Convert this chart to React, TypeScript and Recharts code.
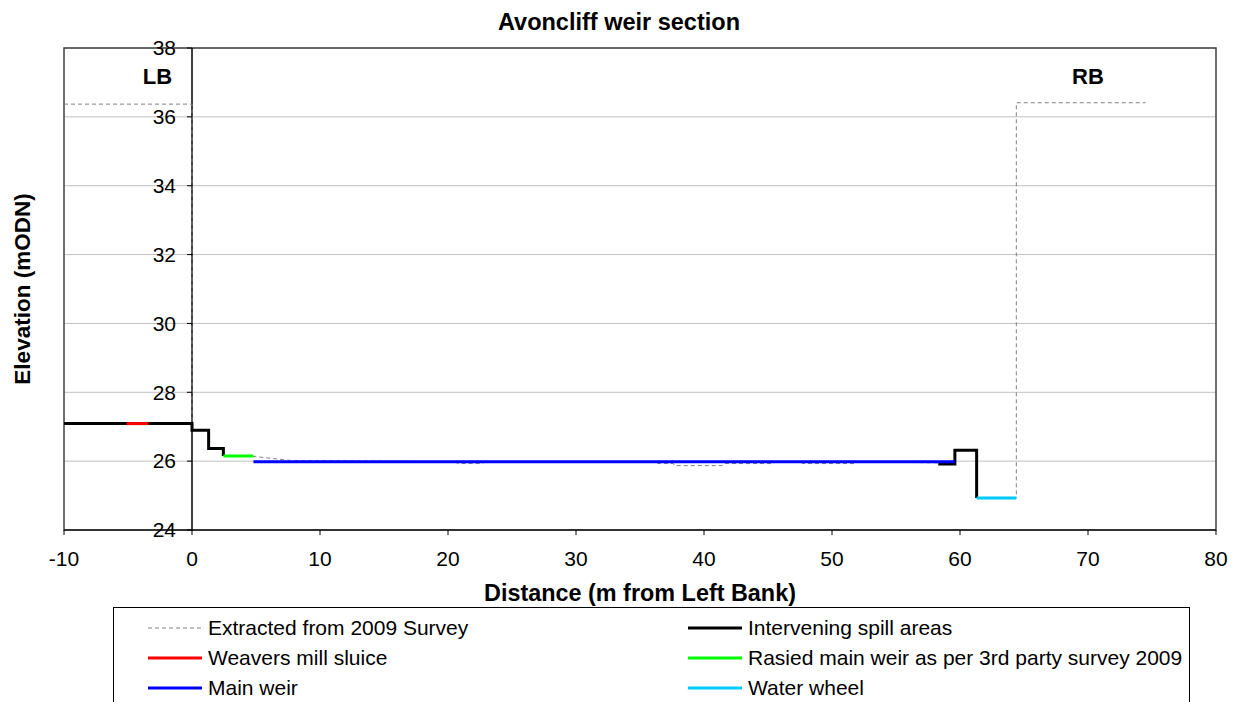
import { LineChart, Line, XAxis, YAxis, CartesianGrid, ReferenceArea, ReferenceLine, ReferenceDot } from 'recharts'

const FONT = '"Liberation Sans", Arial, sans-serif'

const X_MIN = -10
const X_MAX = 80
const Y_MIN = 24
const Y_MAX = 38
const xTicks = [-10, 0, 10, 20, 30, 40, 50, 60, 70, 80]
const yTicks = [24, 26, 28, 30, 32, 34, 36, 38]

// Extracted from 2009 Survey
const surveyX = [-10, 0, 0, 0.1, 1.3, 1.3, 2.45, 2.45, 5, 7.7, 20.5, 20.8, 22.6, 23, 36.2, 36.4, 37.6, 37.7, 41.4, 41.6, 45.4, 45.6, 47.5, 47.7, 51.7, 52, 58.3, 59.6, 59.6, 61.3, 61.3, 64.4, 64.4, 74.5]
const surveyY = [36.37, 36.37, 27.09, 26.9, 26.9, 26.37, 26.37, 26.15, 26.13, 26.02, 25.98, 25.93, 25.93, 25.98, 25.98, 25.93, 25.93, 25.87, 25.87, 25.93, 25.93, 25.98, 25.98, 25.93, 25.93, 25.98, 25.95, 25.95, 26.32, 26.32, 24.93, 24.93, 36.41, 36.41]

// Intervening spill areas (null = gap)
const spillX = [-10, 0, 0, 1.3, 1.3, 2.45, 2.45, 30, 58.3, 59.6, 59.6, 61.3, 61.3]
const spillY: (number | null)[] = [27.09, 27.09, 26.9, 26.9, 26.37, 26.37, 26.15, null, 25.92, 25.92, 26.32, 26.32, 24.93]

const sluiceX = [-5.1, -3.4]
const sluiceY = [27.09, 27.09]

const raisedX = [2.45, 4.8]
const raisedY = [26.15, 26.15]

const mainX = [4.8, 59.6]
const mainY = [25.98, 25.98]

const wheelX = [61.3, 64.4]
const wheelY = [24.93, 24.93]

const bankLabels = ['LB', 'RB']
const bankX = [-2.7, 70]
const bankY = [37.19, 37.19]

const zip = (xs: number[], ys: (number | null)[]) => xs.map((x, i) => ({ x, y: ys[i] }))

const SERIES = [
  { name: 'Extracted from 2009 Survey', color: '#808080', width: 1, dash: '4 3', data: zip(surveyX, surveyY) },
  { name: 'Intervening spill areas', color: '#000000', width: 3, dash: undefined, data: zip(spillX, spillY) },
  { name: 'Weavers mill sluice', color: '#ff0000', width: 3, dash: undefined, data: zip(sluiceX, sluiceY) },
  { name: 'Rasied main weir as per 3rd party survey 2009', color: '#00ff00', width: 3, dash: undefined, data: zip(raisedX, raisedY) },
  { name: 'Main weir', color: '#0000ff', width: 3, dash: undefined, data: zip(mainX, mainY) },
  { name: 'Water wheel', color: '#00ccff', width: 3, dash: undefined, data: zip(wheelX, wheelY) },
]

const W = 1238
const H = 702
const M = { top: 48, right: 22, left: 0, bottom: 97 }
const Y_AXIS_W = 64
const PLOT_W = W - M.left - M.right - Y_AXIS_W
// pixel column where x = 0 sits (the y axis is drawn there)
const ZERO_PX = M.left + Y_AXIS_W + (PLOT_W * (0 - X_MIN)) / (X_MAX - X_MIN)

const YTick = (props: any) => {
  const { y, payload } = props
  return (
    <g>
      <line x1={ZERO_PX - 5} x2={ZERO_PX} y1={y} y2={y} stroke="#000" />
      <text x={ZERO_PX - 16} y={y} dy="0.35em" textAnchor="end" fontSize={21} fontFamily={FONT} fill="#000">
        {payload.value}
      </text>
    </g>
  )
}

const YTitle = (props: any) => {
  const vb = props.viewBox
  const cx = 22
  const cy = vb.y + vb.height / 2
  return (
    <text x={cx} y={cy} transform={`rotate(-90 ${cx} ${cy})`} textAnchor="middle" dy="0.35em" fontSize={22.5} fontWeight="bold" fontFamily={FONT} fill="#000">
      Elevation (mODN)
    </text>
  )
}

const XTitle = (props: any) => {
  const vb = props.viewBox
  return (
    <text x={vb.x + vb.width / 2} y={593} textAnchor="middle" dy="0.35em" fontSize={23.4} fontWeight="bold" fontFamily={FONT} fill="#000">
      Distance (m from Left Bank)
    </text>
  )
}

const legendRow = (i: number) => Math.floor(i / 2)
const legendCol = (i: number) => i % 2

export default function App() {
  return (
    <div style={{ position: 'absolute', left: 0, top: 0, width: W, height: H, overflow: 'hidden', background: '#fff', fontFamily: FONT }}>
      <div style={{ position: 'absolute', left: 0, top: 7, width: W, textAlign: 'center', fontSize: 23.5, fontWeight: 'bold', lineHeight: '30px' }}>
        Avoncliff weir section
      </div>
      <LineChart width={W} height={H} margin={M}>
        <CartesianGrid horizontal vertical={false} stroke="#c0c0c0" />
        <XAxis
          dataKey="x"
          type="number"
          domain={[X_MIN, X_MAX]}
          ticks={xTicks}
          allowDataOverflow
          height={75}
          stroke="#000"
          tickSize={5}
          tickMargin={16}
          tick={{ fontSize: 21, fontFamily: FONT, fill: '#000' }}
          label={{ content: XTitle }}
        />
        <YAxis
          type="number"
          domain={[Y_MIN, Y_MAX]}
          ticks={yTicks}
          allowDataOverflow
          width={Y_AXIS_W}
          axisLine={false}
          tickLine={false}
          tick={YTick}
          label={{ content: YTitle }}
        />
        <ReferenceArea x1={X_MIN} x2={X_MAX} y1={Y_MIN} y2={Y_MAX} fill="none" stroke="#404040" strokeWidth={1.5} />
        <ReferenceLine x={0} stroke="#000" strokeWidth={1.5} />
        {SERIES.map((s) => (
          <Line
            key={s.name}
            data={s.data}
            dataKey="y"
            name={s.name}
            type="linear"
            stroke={s.color}
            strokeWidth={s.width}
            strokeDasharray={s.dash}
            dot={false}
            activeDot={false}
            isAnimationActive={false}
          />
        ))}
        {bankLabels.map((t, i) => (
          <ReferenceDot
            key={t}
            x={bankX[i]}
            y={bankY[i]}
            r={1}
            fill="none"
            stroke="none"
            label={{ value: t, position: 'center', fontSize: 22, fontWeight: 'bold', fontFamily: FONT, fill: '#000' }}
          />
        ))}
      </LineChart>
      <div style={{ position: 'absolute', left: 113, top: 607, width: 1077, height: 130, border: '1px solid #000', boxSizing: 'border-box', background: '#fff' }}>
        {SERIES.map((s, i) => {
          const top = 20 + legendRow(i) * 30
          const left = legendCol(i) === 0 ? 34 : 574
          return (
            <div key={s.name} style={{ position: 'absolute', left, top: top - 12, height: 24, display: 'flex', alignItems: 'center', whiteSpace: 'nowrap' }}>
              <svg width={54} height={6} style={{ marginRight: 6 }}>
                <line x1={0} x2={54} y1={3} y2={3} stroke={s.color} strokeWidth={s.width} strokeDasharray={s.dash} />
              </svg>
              <span style={{ fontSize: 21, color: '#000' }}>{s.name}</span>
            </div>
          )
        })}
      </div>
    </div>
  )
}
